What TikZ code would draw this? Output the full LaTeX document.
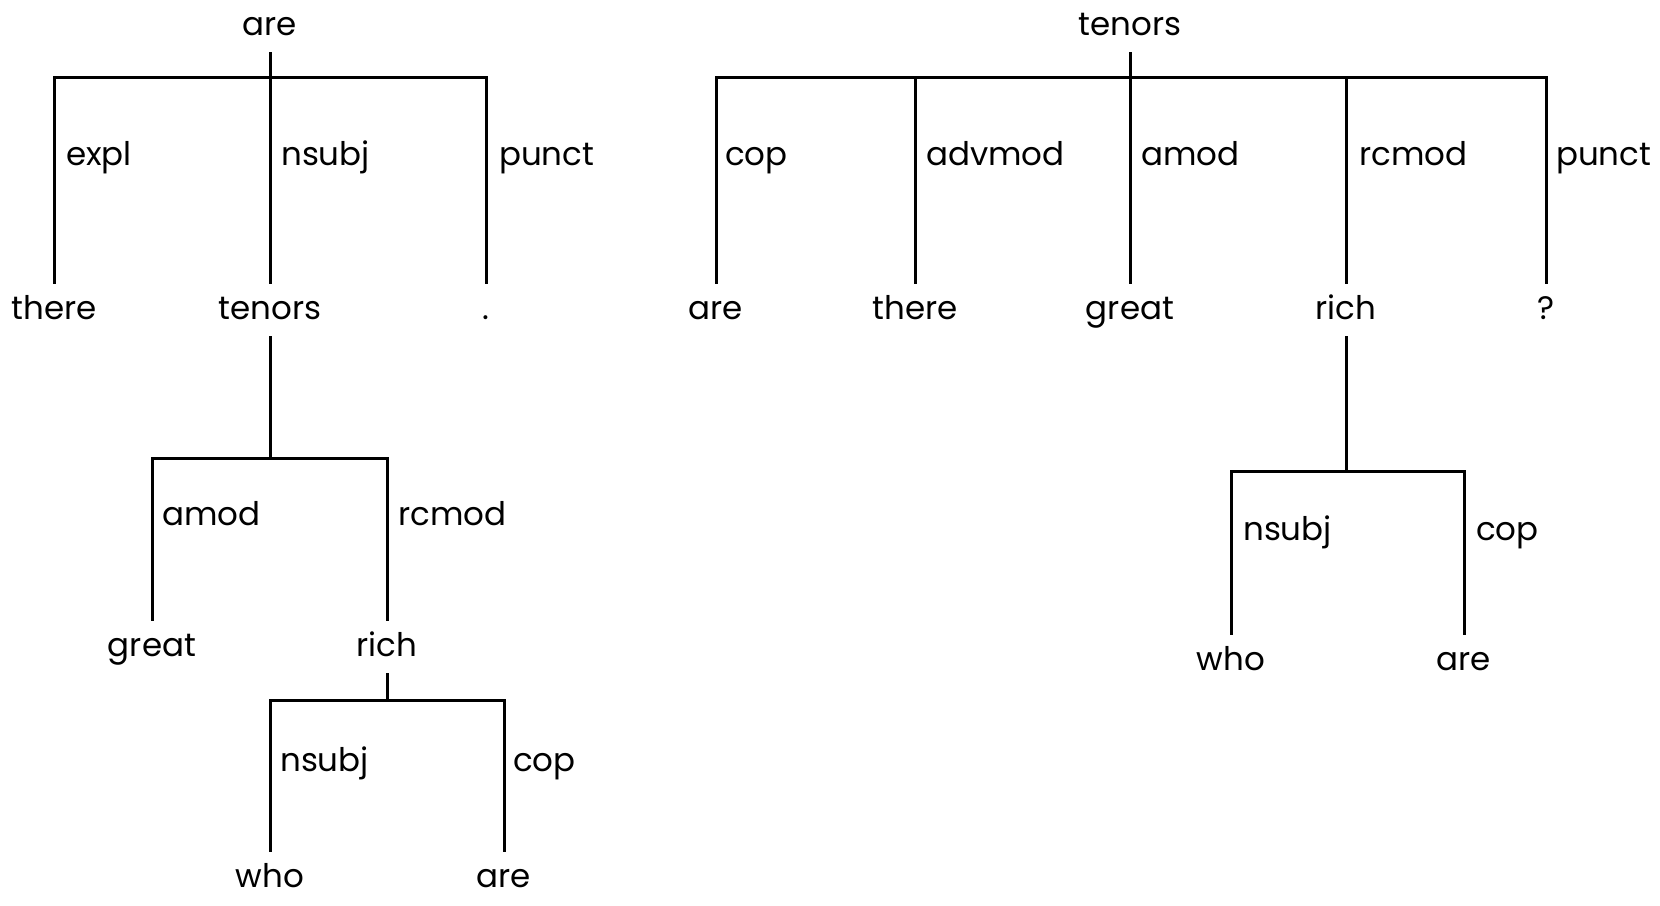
\documentclass[tikz,border=0pt]{standalone}
\usepackage{fontspec}
\setmainfont{Poppins}
\begin{document}
\begin{tikzpicture}[x=1pt,y=-1pt,
  word/.style={anchor=base,inner sep=0pt,text height=36pt,text depth=18pt,font=\fontsize{32.5}{38}\selectfont},
  lab/.style={anchor=base west,inner sep=0pt,font=\fontsize{32.5}{38}\selectfont},
  edge/.style={line width=3pt,line cap=rect}]
\useasboundingbox (0,0) rectangle (1660,905);
% ---------- left tree ----------
\node[word] (Lare) at (270,35) {are};
\node[word] (Lthere) at (54,319) {there};
\node[word] (Ltenors) at (270,319) {tenors};
\node[word] (Ldot) at (486,319) {.};
\node[word] (Lgreat) at (152,656) {great};
\node[word] (Lrich) at (387,656) {rich};
\node[word] (Lwho) at (270,887) {who};
\node[word] (Lare2) at (504,887) {are};
\coordinate (Lb1) at (270,77);
\coordinate (Lb2) at (270,458);
\coordinate (Lb3) at (387,700);
\draw[edge] (Lare.south) -- (Lb1);
\draw[edge] (Lthere.north) |- (Lb1);
\draw[edge] (Ltenors.north) -- (Lb1);
\draw[edge] (Ldot.north) |- (Lb1);
\node[lab] (lexpl) at (66,165) {expl};
\node[lab] (lnsubj) at (281,165) {nsubj};
\node[lab] (lpunct) at (499,165) {punct};
\draw[edge] (Ltenors.south) -- (Lb2);
\draw[edge] (Lgreat.north) |- (Lb2);
\draw[edge] (Lrich.north) |- (Lb2);
\node[lab] (lamod) at (162,525) {amod};
\node[lab] (lrcmod) at (398,525) {rcmod};
\draw[edge] (Lrich.south) -- (Lb3);
\draw[edge] (Lwho.north) |- (Lb3);
\draw[edge] (Lare2.north) |- (Lb3);
\node[lab] (lnsubj2) at (280,771) {nsubj};
\node[lab] (lcop) at (513,771) {cop};
% ---------- right tree ----------
\node[word] (Rtenors) at (1130,35) {tenors};
\node[word] (Rare) at (716,319) {are};
\node[word] (Rthere) at (915,319) {there};
\node[word] (Rgreat) at (1130,319) {great};
\node[word] (Rrich) at (1346,319) {rich};
\node[word] (Rq) at (1546,319) {?};
\node[word] (Rwho) at (1231,670) {who};
\node[word] (Rare2) at (1464,670) {are};
\coordinate (Rb1) at (1130,77);
\coordinate (Rb2) at (1346,471);
\draw[edge] (Rtenors.south) -- (Rb1);
\draw[edge] (Rare.north) |- (Rb1);
\draw[edge] (Rthere.north) |- (Rb1);
\draw[edge] (Rgreat.north) -- (Rb1);
\draw[edge] (Rrich.north) |- (Rb1);
\draw[edge] (Rq.north) |- (Rb1);
\node[lab] (rcop) at (725,165) {cop};
\node[lab] (radvmod) at (926,165) {advmod};
\node[lab] (ramod) at (1141,165) {amod};
\node[lab] (rrcmod) at (1359,165) {rcmod};
\node[lab] (rpunct) at (1556,165) {punct};
\draw[edge] (Rrich.south) -- (Rb2);
\draw[edge] (Rwho.north) |- (Rb2);
\draw[edge] (Rare2.north) |- (Rb2);
\node[lab] (rnsubj) at (1243,540) {nsubj};
\node[lab] (rcop2) at (1476,540) {cop};
\end{tikzpicture}
\end{document}
